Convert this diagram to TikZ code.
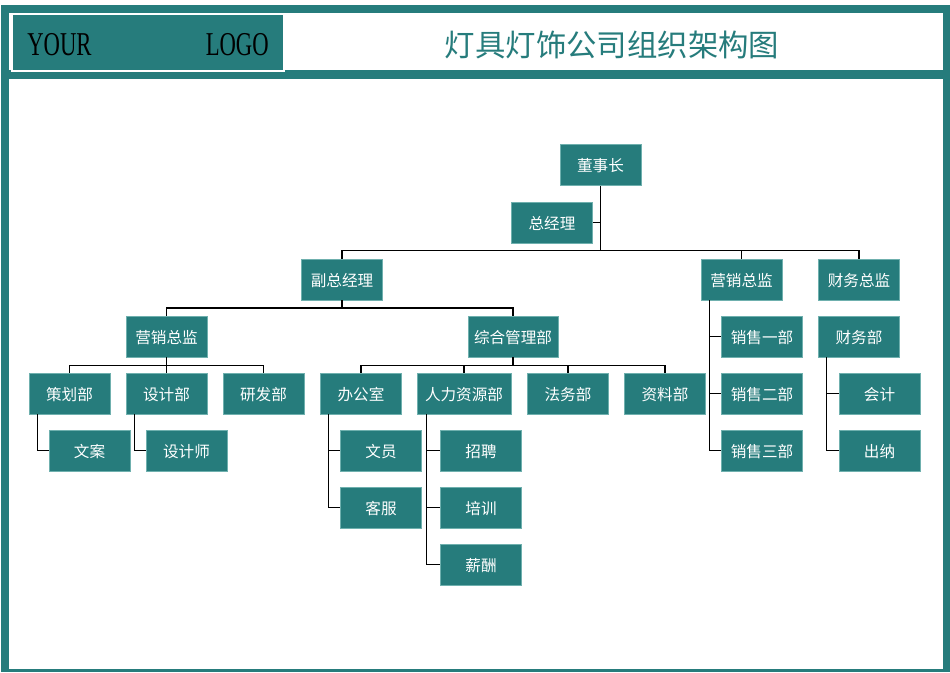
\documentclass[tikz,border=0pt]{standalone}
\usepackage{fontspec}
\setmainfont{Noto Sans CJK SC}
\newfontfamily\logofont{Liberation Serif}
\usepackage{tikz}
\usetikzlibrary{
calc,
}
\definecolor{tealfill}{HTML}{267C7C}
\definecolor{tealedge}{HTML}{6FB0AE}
\tikzset{
	orgbox/.style={draw=tealedge, line width=0.3pt, fill=tealfill, text=white, minimum width=61pt, minimum height=31pt, inner sep=0pt, text height=11pt, text depth=0.7pt, font=\fontsize{11.7}{12}\selectfont},
	wire/.style={draw=black, line width=0.95pt},
}

\begin{document}
\begin{tikzpicture}[x=0.75pt, y=-0.75pt]
			\useasboundingbox (0,0) rectangle (950,672);

			\fill[tealfill] (1,5) rectangle (950,672);
			\fill[white] (9,13.3) rectangle (943.3,70.3);
			\fill[white] (9,79.3) rectangle (943.3,669);

			\node[draw=white, line width=1.6pt, fill=tealfill, minimum width=204pt, minimum height=42.5pt, inner sep=0pt] (logobox) at (147.7,42.4){};
			\node[xscale=0.68, text=black, font=\logofont\fontsize{25}{25}\selectfont] (logotext) at (148,45){YOUR\hspace{126pt}LOGO};
			\node[text=tealfill, font=\fontsize{22.8}{24}\selectfont] (title) at (612,44.5){灯具灯饰公司组织架构图};

			\node[orgbox] (dongshi) at (600.5,165){董事长};
			\node[orgbox] (zongjingli) at (552,222.5){总经理};
			\coordinate (trunk) at (600.5,250.5);

			\node[orgbox] (fuzong) at (342,279.5){副总经理};
			\node[orgbox] (yingxiao) at (741.5,279.5){营销总监};
			\node[orgbox] (caiwu) at (859,279.5){财务总监};

			\node[orgbox] (shichang) at (166.5,336.5){营销总监};
			\node[orgbox, minimum width=67.5pt] (zonghe) at (513,336.5){综合管理部};
			\node[orgbox] (xiaoyi) at (762,336.5){销售一部};
			\node[orgbox] (caiwubu) at (859,336.5){财务部};

			\node[orgbox] (cehua) at (69.5,393.5){策划部};
			\node[orgbox] (sheji) at (166.5,393.5){设计部};
			\node[orgbox] (yanfa) at (263.5,393.5){研发部};
			\node[orgbox] (bangong) at (361,393.5){办公室};
			\node[orgbox, minimum width=70.5pt] (renli) at (464,393.5){人力资源部};
			\node[orgbox] (fawu) at (568,393.5){法务部};
			\node[orgbox] (ziliao) at (665,393.5){资料部};
			\node[orgbox] (xiaoer) at (762,393.5){销售二部};
			\node[orgbox] (kuaiji) at (879.5,393.5){会计};

			\node[orgbox] (wenan) at (89.5,450.5){文案};
			\node[orgbox] (shejishi) at (186.5,450.5){设计师};
			\node[orgbox] (wenyuan) at (381,450.5){文员};
			\node[orgbox] (zhaopin) at (481,450.5){招聘};
			\node[orgbox] (xiaosan) at (762,450.5){销售三部};
			\node[orgbox] (chuna) at (879.5,450.5){出纳};

			\node[orgbox] (kefu) at (381,507.5){客服};
			\node[orgbox] (peixun) at (481,507.5){培训};
			\node[orgbox] (xinchou) at (481,564.5){薪酬};

			% top of the tree
			\draw[wire] (dongshi.south) -- (trunk);
			\draw[wire] (zongjingli.east) -- (zongjingli.east -| trunk);
			\draw[wire] (trunk) -| (fuzong.north);
			\draw[wire] (trunk) -| (yingxiao.north);
			\draw[wire] (trunk) -| (caiwu.north);

			% second level
			\coordinate (fuzongbus) at ($(fuzong.south)+(0,7.5)$);
			\draw[wire] (fuzong.south) -- (fuzongbus);
			\draw[wire] (fuzongbus) -| (shichang.north);
			\draw[wire] (fuzongbus) -| (zonghe.north);

			\coordinate (shichangbus) at ($(shichang.south)+(0,8)$);
			\draw[wire] (shichang.south) -- (shichangbus);
			\draw[wire] (shichangbus) -| (cehua.north);
			\draw[wire] (shichangbus) -- (sheji.north);
			\draw[wire] (shichangbus) -| (yanfa.north);

			\coordinate (zonghebus) at ($(zonghe.south)+(0,8)$);
			\draw[wire] (zonghe.south) -- (zonghebus);
			\draw[wire] (zonghebus) -| (bangong.north);
			\draw[wire] (zonghebus) -| (renli.north);
			\draw[wire] (zonghebus) -| (fawu.north);
			\draw[wire] (zonghebus) -| (ziliao.north);

			% side branches
			\draw[wire] ([xshift=6.4pt]cehua.south west) |- (wenan.west);
			\draw[wire] ([xshift=6.4pt]sheji.south west) |- (shejishi.west);
			\draw[wire] ([xshift=6.4pt]bangong.south west) |- (wenyuan.west);
			\draw[wire] ([xshift=6.4pt]bangong.south west) |- (kefu.west);
			\draw[wire] ([xshift=7.4pt]renli.south west) |- (zhaopin.west);
			\draw[wire] ([xshift=7.4pt]renli.south west) |- (peixun.west);
			\draw[wire] ([xshift=7.4pt]renli.south west) |- (xinchou.west);
			\draw[wire] ([xshift=6.4pt]yingxiao.south west) |- (xiaoyi.west);
			\draw[wire] ([xshift=6.4pt]yingxiao.south west) |- (xiaoer.west);
			\draw[wire] ([xshift=6.4pt]yingxiao.south west) |- (xiaosan.west);
			\draw[wire] ([xshift=6.4pt]caiwubu.south west) |- (kuaiji.west);
			\draw[wire] ([xshift=6.4pt]caiwubu.south west) |- (chuna.west);
		\end{tikzpicture}
\end{document}
